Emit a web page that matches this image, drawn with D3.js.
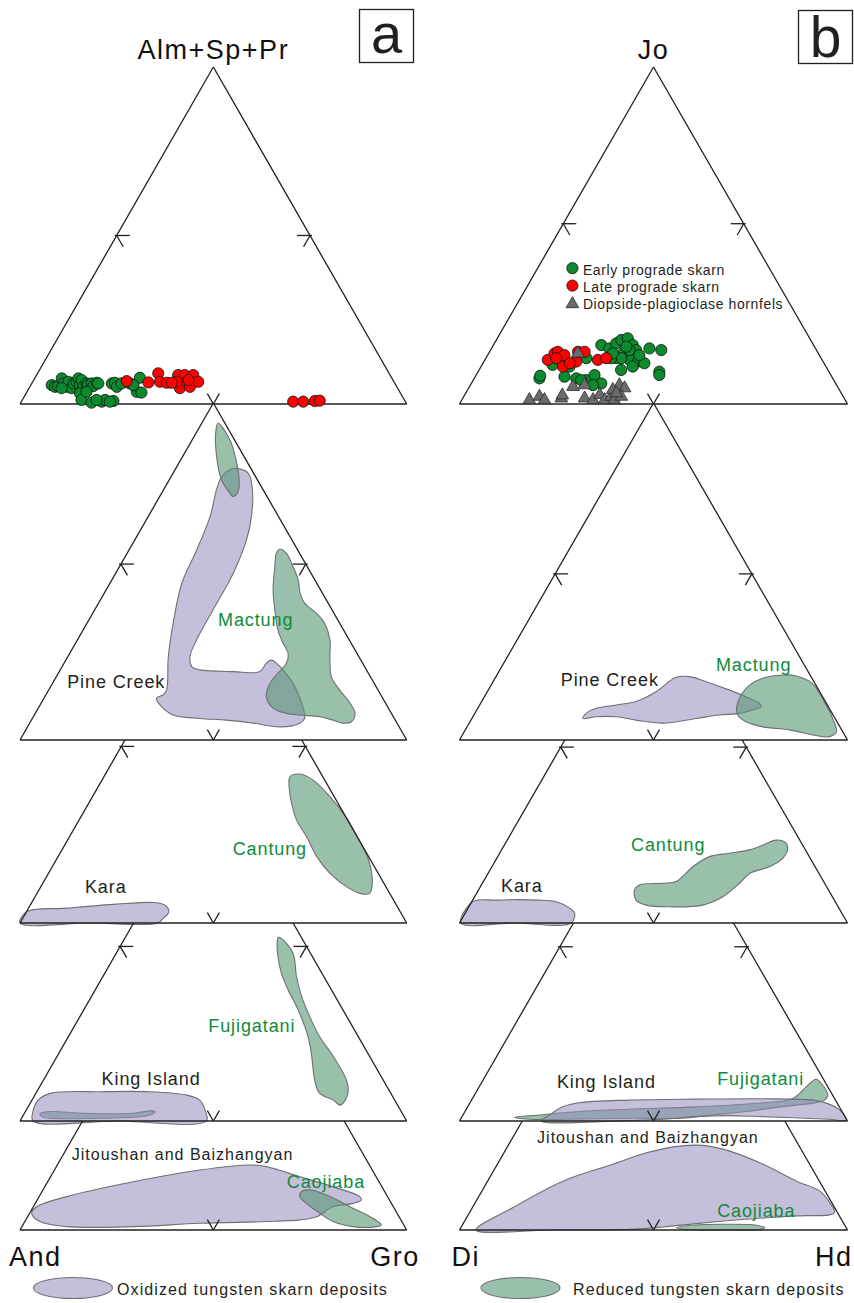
<!DOCTYPE html>
<html><head><meta charset="utf-8">
<script src="https://cdn.jsdelivr.net/npm/d3@7"></script>
<style>body{margin:0;background:#fff}svg{display:block}text{font-family:"Liberation Sans",Arial,sans-serif}</style>
</head><body><svg id="c" width="854" height="1303"></svg>
<script>
// ---------------- DATA (ternary: [right-apex %, top-apex %]; left-apex = remainder) ----------------
const apexLabelsA = ["Alm+Sp+Pr", "And", "Gro"];
const apexLabelsB = ["Jo", "Di", "Hd"];
const panelLetters = ["a", "b"];
const legendPoints = ["Early prograde skarn", "Late prograde skarn", "Diopside-plagioclase hornfels"];
const legendRegions = ["Oxidized tungsten skarn deposits", "Reduced tungsten skarn deposits"];

// Garnet (a): [Gro, Alm+Sp+Pr]
const earlyA = [[5.4,5.6],[6.5,5.1],[7.2,5.3],[7.0,7.6],[8.2,6.1],[9.6,5.1],[9.2,6.6],[11.0,4.7],[10.8,6.1],[11.3,6.6],[11.3,7.6],[12.7,5.6],[12.4,7.1],[13.8,5.1],[14.2,6.1],[14.8,5.6],[15.5,6.1],[16.3,5.3],[16.7,6.3],[17.2,6.1],[13.9,3.2],[15.3,1.2],[18.3,0.4],[20.8,0.7],[21.4,1.2],[23.7,0.9],[20.7,6.1],[21.4,6.3],[22.5,5.1],[23.2,6.1],[25.4,6.1],[27.1,7.8],[28.4,3.6],[29.7,3.4],[26.5,5.6],[8.4,4.7],[15.4,3.6],[22.9,0.7],[19.2,1.2]];
const lateA = [[24.2,6.8],[30.0,6.4],[31.2,9.1],[32.9,6.6],[34.8,6.3],[36.6,8.6],[39.0,4.7],[38.3,8.6],[39.8,6.6],[41.4,5.1],[40.5,8.6],[42.8,6.6],[40.0,7.1],[37.2,6.6],[36.1,6.3],[70.3,0.7],[72.9,0.7],[75.8,0.9],[77.0,1.0]];
// Pyroxene (b): [Hd, Jo]
const earlyB = [[16.8,7.6],[16.6,8.4],[23.0,8.1],[26.3,7.6],[29.1,7.1],[30.5,8.6],[33.5,6.1],[27.8,17.5],[30.4,16.5],[31.4,18.0],[32.2,19.0],[33.6,19.5],[35.9,17.5],[37.5,16.0],[34.6,15.0],[33.6,13.6],[37.3,13.1],[39.7,12.6],[41.6,12.1],[36.6,10.1],[39.1,11.1],[40.7,16.5],[44.0,16.0],[46.7,9.6],[47.2,8.6],[34.9,13.6],[32.3,13.6],[25.9,13.6],[19.5,12.6],[18.2,11.6],[22.8,11.1],[27.8,7.1],[31.6,5.6],[35.8,16.0],[34.5,17.0],[39.1,14.5],[32.0,15.0]];
const lateB = [[16.2,13.1],[17.0,15.0],[17.6,15.5],[19.8,14.5],[23.8,12.6],[21.1,11.1],[22.8,15.5],[24.5,15.5],[29.1,13.1],[31.0,13.6],[22.4,12.1],[18.1,13.6]];
const hornfelsB = [[17.4,1.2],[19.5,2.2],[21.3,1.2],[25.4,1.7],[25.2,2.6],[31.4,1.7],[33.8,1.2],[34.8,2.7],[36.8,1.2],[38.0,2.2],[39.3,1.2],[38.4,5.6],[40.2,4.7],[40.6,2.2],[26.7,5.1],[29.4,5.6],[23.0,15.0],[37.4,4.2],[38.8,3.2]];

// Deposit fields, garnet (a)
const pineCreekA = [[15.7,80.6],[19.5,79.1],[23.0,74.2],[26.7,66.3],[28.9,59.3],[30.4,49.5],[30.6,38.6],[30.8,29.7],[31.6,24.7],[33.5,21.8],[36.1,20.8],[45.0,20.3],[51.9,20.3],[52.3,22.8],[53.2,23.7],[54.9,22.8],[57.6,20.8],[62.2,16.8],[67.4,10.9],[70.4,6.4],[69.9,5.0],[65.3,3.9],[57.8,5.0],[50.5,5.9],[43.3,6.4],[35.9,7.4],[31.0,10.4],[29.1,12.4],[30.3,13.4],[30.5,14.8],[26.0,24.7],[22.3,34.6],[18.6,46.5],[17.5,56.4],[16.0,66.3],[13.7,74.2],[13.1,78.1],[14.2,80.3]];
const mactungUpperA = [[4.2,94.0],[9.8,89.0],[15.0,82.1],[18.6,76.2],[19.6,73.2],[19.0,72.2],[17.7,73.2],[13.5,77.2],[8.8,84.1],[5.1,91.0]];
const mactungLowerA = [[38.9,56.6],[41.2,55.4],[44.9,51.4],[48.2,47.5],[50.7,43.5],[53.3,40.6],[57.9,37.6],[61.5,34.6],[65.3,29.7],[67.8,24.7],[71.1,18.8],[75.3,14.8],[79.9,10.9],[82.7,7.9],[83.0,5.4],[81.0,5.0],[78.0,5.9],[74.1,6.9],[68.7,7.4],[65.0,7.9],[60.8,9.4],[57.3,12.8],[56.2,16.8],[56.8,19.8],[57.5,22.8],[56.5,25.7],[53.7,28.7],[50.4,32.6],[46.6,38.6],[43.2,44.5],[40.2,51.4],[38.6,55.4]];
const karaA = [[0,0],[0,3.3],[9.9,4.4],[22.2,5.6],[31.4,6.1],[34.2,5.6],[36.1,4.4],[36.9,2.9],[36.3,1.4],[35.7,0],[18,0]];
const cantungA = [[48.1,43.4],[50.3,44.2],[54.6,42.4],[61.4,37.5],[68.5,31.5],[74.4,25.6],[80.8,18.7],[85.2,11.8],[86.0,8.8],[83.5,8.8],[79.0,10.8],[72.8,14.7],[66.9,19.7],[61.3,25.6],[56.2,30.6],[51.8,36.5],[49.4,40.4]];
const kingIslandA = [[3.4,0],[1.8,3.3],[1.6,6.2],[3.7,8.2],[16.3,8.7],[29.2,8.7],[39.2,7.7],[43.4,6.2],[46.2,3.3],[48.2,0],[25,0]];
const kingInnerA = [[4.1,2.1],[6.4,2.8],[15.2,2.3],[28.1,2.3],[32.1,3.0],[33.5,2.8],[32.7,1.8],[28.7,1.1],[20.3,0.8],[7.4,0.8],[5.0,1.3]];
const fujigataniA = [[39.5,54.5],[40.5,54.2],[45.7,49.8],[50.1,42.8],[54.4,36.9],[59.5,30.9],[65.0,25.0],[71.5,19.1],[78.3,12.2],[80.5,8.7],[80.9,5.3],[80.4,4.7],[77.9,6.2],[73.4,8.2],[70.1,12.2],[65.9,19.1],[62.0,25.0],[55.5,32.9],[49.9,38.9],[45.7,43.8],[42.3,48.8],[39.9,53.2]];
const jitoushanA = [[0.5,5.0],[0.85,6.9],[7.1,9.9],[22.1,14.3],[37.6,17.8],[49.8,19.3],[54.3,18.8],[64.5,15.8],[74.6,12.8],[82.9,9.9],[83.8,8.9],[82.2,7.9],[77.5,6.9],[74.7,3.9],[70.9,3.0],[62.5,2.5],[45.5,2.0],[28.8,1.0],[11.6,1.0],[3.9,2.5]];
const caojiabaA = [[67.1,11.4],[69.0,11.9],[74.1,10.4],[81.9,6.9],[89.5,3.5],[92.7,1.5],[91.7,1.0],[85.6,1.0],[79.7,2.5],[75.0,5.0],[70.1,7.9],[67.4,9.9]];

// Deposit fields, pyroxene (b)
const pineCreekB = [[28.6,6.4],[28.7,7.9],[30.5,9.4],[35.2,10.4],[39.8,11.4],[43.5,14.3],[46.5,18.6],[49.9,18.8],[54.9,17.3],[62.2,14.8],[68.5,12.4],[71.8,10.9],[72.8,9.9],[71.1,8.9],[68.2,7.9],[63.3,7.4],[57.8,6.4],[49.9,5.0],[42.6,5.9],[37.0,6.9],[31.8,6.9]];
const mactungB = [[65.9,13.4],[66.6,16.3],[69.0,18.3],[73.7,19.3],[77.3,19.0],[82.5,16.8],[87.8,11.9],[93.4,5.9],[95.9,2.5],[94.9,1.0],[90.3,1.5],[83.6,3.0],[76.2,3.9],[71.2,5.4],[68.0,7.4],[66.5,9.9]];
const karaB = [[0.4,0],[0.25,6.3],[6.1,6.8],[17.2,6.8],[21.8,6.3],[26.2,4.4],[28.2,2.9],[28.8,0],[14,0]];
const cantungB = [[40.2,9.8],[40.7,11.3],[46.5,11.8],[49.7,12.3],[51.8,16.7],[54.6,19.7],[59.2,20.7],[63.9,21.7],[66.6,23.1],[69.3,24.6],[71.7,24.1],[73.5,22.2],[73.7,19.2],[71.5,16.7],[67.4,14.7],[66.3,11.8],[64.0,7.8],[60.0,5.3],[51.7,4.8],[45.5,5.3],[42.1,6.8]];
const kingIslandB = [[21.1,0],[22.3,1.8],[24.5,4.2],[28.2,5.4],[40.7,6.2],[57.8,6.5],[74.9,6.6],[88.0,6.2],[91.9,5.3],[96.3,3.3],[99.5,0.3],[95.1,0.5],[77.5,1.3],[68.8,1.6],[60.3,1.3],[52.1,0.5],[43.7,0.1]];
const fujigataniB = [[13.6,1.1],[19.7,1.8],[29.5,2.8],[42.0,3.5],[58.9,4.2],[75.5,5.4],[82.6,6.7],[84.3,10.2],[85.7,12.4],[87.6,11.2],[91.1,7.7],[91.0,6.2],[88.4,5.3],[80.4,4.2],[72.5,2.8],[64.4,1.8],[56.3,0.8],[43.4,0.8],[26.4,0.5],[17.8,0.5]];
const jitoushanB = [[4.3,0],[10.4,6.6],[19.4,14.5],[29.8,19.5],[36.7,22.9],[44.3,24.9],[50.2,25.1],[57.9,23.4],[68.5,19.5],[79.6,14.5],[87.0,11.6],[91.4,8.1],[94.1,5.1],[84.7,4.2],[72.3,3.2],[60.1,1.9],[52.0,0.9],[43.7,0.2],[24,0]];
const caojiabaB = [[55.5,0.7],[60.2,1.5],[68.7,1.7],[75.8,1.4],[78.3,0.7],[77.2,0.1],[69.6,0],[61.0,0]];

// ---------------- LAYOUT ----------------
const svg = d3.select("#c");
svg.append("rect").attr("width", 854).attr("height", 1303).attr("fill", "#fff");

const bases = [404, 740, 923, 1121, 1230];
const TRI_H = 337;
const INK = "#231f20";
const FONT = '"Liberation Sans", Arial, sans-serif';
const OX = {fill: "rgb(150,138,192)", op: 0.55};
const RE = {fill: "rgb(85,150,115)", op: 0.6};
const labelGreen = "#0f8a3a";

const columns = [
  {L: 20, W: 386.7, apex: apexLabelsA, letter: panelLetters[0],
   ticks: [50, 52.2, 52.4, 51.8, null],
   panels: [
     {points: [[earlyA, "early"], [lateA, "late"]]},
     {regions: [[pineCreekA, OX], [mactungUpperA, RE], [mactungLowerA, RE]],
      labels: [["Pine Creek", [4.5, 15.4], 0], ["Mactung", [34.3, 33.8], 1]]},
     {regions: [[karaA, OX], [cantungA, RE]],
      labels: [["Kara", [12.35, 8.9], 0], ["Cantung", [44.9, 20.2], 1]]},
     {regions: [[fujigataniA, RE], [kingInnerA, RE], [kingIslandA, OX]],
      labels: [["King Island", [15.75, 10.7], 0], ["Fujigatani", [35.5, 26.4], 1]]},
     {regions: [[jitoushanA, OX], [caojiabaA, RE]],
      labels: [["Jitoushan and Baizhangyan", [3.0, 20.8], 0, 16], ["Caojiaba", [62.75, 12.5], 1]]}
   ]},
  {L: 459.5, W: 388, apex: apexLabelsB, letter: panelLetters[1],
   ticks: [53.5, 49.3, 52.2, 51.7, null],
   panels: [
     {points: [[earlyB, "early"], [lateB, "late"], [hornfelsB, "hornfels"]], legend: true},
     {regions: [[pineCreekB, OX], [mactungB, RE]],
      labels: [["Pine Creek", [18.1, 16.0], 0], ["Mactung", [55.85, 20.5], 1]]},
     {regions: [[karaB, OX], [cantungB, RE]],
      labels: [["Kara", [6.1, 9.2], 0], ["Cantung", [33.5, 21.4], 1]]},
     {regions: [[fujigataniB, RE], [kingIslandB, OX]],
      labels: [["King Island", [20.2, 9.8], 0], ["Fujigatani", [61.05, 10.7], 1]]},
     {regions: [[jitoushanB, OX], [caojiabaB, RE]],
      labels: [["Jitoushan and Baizhangyan", [7.1, 25.8], 0, 16], ["Caojiaba", [64.45, 3.9], 1]]}
   ]}
];

const areaLine = d3.line().curve(d3.curveCatmullRomClosed.alpha(0.5));
const seg = (g, a, b) => g.append("line").attr("x1", a[0]).attr("y1", a[1]).attr("x2", b[0]).attr("y2", b[1])
  .attr("stroke", INK).attr("stroke-width", 1.3);

function makeProj(col, i) {
  const xs = d3.scaleLinear().domain([0, 100]).range([col.L, col.L + col.W]);
  const ys = d3.scaleLinear().domain([0, 100]).range([bases[i], bases[i] - TRI_H]);
  const p = d => [xs(d[0] + d[1] / 2), ys(d[1])];
  p.xs = xs; p.ys = ys;
  return p;
}

const pointStyle = {
  early: {fill: "#0b8a2e"},
  late: {fill: "#ff0000"},
  hornfels: {fill: "#6b6b6b"}
};

columns.forEach((col, ci) => {
  const gCol = svg.append("g");
  col.panels.forEach((panel, i) => {
    const p = makeProj(col, i);
    const g = gCol.append("g");
    // regions
    (panel.regions || []).forEach(([data, st]) => {
      g.append("path").attr("d", areaLine(data.map(p)))
        .attr("fill", st.fill).attr("fill-opacity", st.op)
        .attr("stroke", "#707070").attr("stroke-width", 1.1);
    });
    // frame
    const tTop = i === 0 ? 100 : p.ys.invert(bases[i - 1]);
    seg(g, p([0, 0]), p([100, 0]));
    seg(g, p([0, 0]), p([0, tTop]));
    seg(g, p([100, 0]), p([100 - tTop, tTop]));
    // ticks
    const len = 13, c60 = 0.5, s60 = Math.sqrt(3) / 2;
    const f = col.ticks[i];
    if (f !== null && f < tTop) {
      const lp = p([0, f]);
      seg(g, [lp[0] - 2, lp[1]], [lp[0] + len, lp[1]]);
      seg(g, lp, [lp[0] + len * c60, lp[1] + len * s60]);
      const rp = p([100 - f, f]);
      seg(g, [rp[0] + 2, rp[1]], [rp[0] - len, rp[1]]);
      seg(g, rp, [rp[0] - len * c60, rp[1] + len * s60]);
    }
    const bp = p([50, 0]);
    seg(g, bp, [bp[0] - 12 * c60, bp[1] - 12 * s60]);
    seg(g, bp, [bp[0] + 12 * c60, bp[1] - 12 * s60]);
    // labels
    (panel.labels || []).forEach(([txt, pos, kind, size]) => {
      const a = p(pos);
      g.append("text").attr("x", a[0]).attr("y", a[1]).text(txt)
        .attr("font-size", size || 18).attr("letter-spacing", size ? 1 : 0.9)
        .attr("fill", kind ? labelGreen : INK);
    });
    // points
    (panel.points || []).forEach(([data, kind]) => {
      if (kind === "hornfels") {
        g.selectAll(null).data(data).enter().append("path")
          .attr("d", d3.symbol(d3.symbolTriangle, 70)())
          .attr("transform", d => { const q = p(d); return `translate(${q[0]},${q[1]})`; })
          .attr("fill", pointStyle[kind].fill).attr("stroke", "#2a2a2a").attr("stroke-width", 0.8);
      } else {
        g.selectAll(null).data(data).enter().append("circle")
          .attr("cx", d => p(d)[0]).attr("cy", d => p(d)[1]).attr("r", 5.6)
          .attr("fill", pointStyle[kind].fill).attr("stroke", "#111").attr("stroke-width", 0.8);
      }
    });
    if (panel.legend) {
      const lx = p.xs(29.1), ly0 = p.ys(40.3), dy = 17.4;
      const kinds = ["early", "late", "hornfels"];
      legendPoints.forEach((t, k) => {
        const y = ly0 + k * dy;
        if (kinds[k] === "hornfels") {
          g.append("path").attr("d", d3.symbol(d3.symbolTriangle, 70)())
            .attr("transform", `translate(${lx},${y + 1})`)
            .attr("fill", pointStyle.hornfels.fill).attr("stroke", "#2a2a2a").attr("stroke-width", 0.8);
        } else {
          g.append("circle").attr("cx", lx).attr("cy", y).attr("r", 5.6)
            .attr("fill", pointStyle[kinds[k]].fill).attr("stroke", "#111").attr("stroke-width", 0.8);
        }
        g.append("text").attr("x", lx + 10.5).attr("y", y + 6.5).text(t)
          .attr("font-size", 14).attr("letter-spacing", 0.6).attr("fill", INK);
      });
    }
  });

  // apex labels
  const p0 = makeProj(col, 0);
  const top = p0([0, 100]);
  svg.append("text").attr("x", top[0]).attr("y", top[1] - 8).attr("text-anchor", "middle")
    .attr("font-size", 27).attr("letter-spacing", 1.5).attr("fill", "#111").text(col.apex[0]);
  const pl = makeProj(col, 4);
  const lc = pl([0, 0]), rc = pl([100, 0]);
  svg.append("text").attr("x", lc[0] - (ci ? 8 : 11)).attr("y", 1266).attr("text-anchor", "start")
    .attr("font-size", 27).attr("letter-spacing", 1.5).attr("fill", "#111").text(col.apex[1]);
  svg.append("text").attr("x", rc[0] + (ci ? 5 : 13)).attr("y", 1266).attr("text-anchor", "end")
    .attr("font-size", 27).attr("letter-spacing", 1.5).attr("fill", "#111").text(col.apex[2]);

  // panel letter box
  const bx = ci ? 798.5 : 359.5, by = ci ? 10.5 : 9.5;
  svg.append("rect").attr("x", bx).attr("y", by).attr("width", 54).attr("height", 53)
    .attr("fill", "none").attr("stroke", INK).attr("stroke-width", 1.3);
  svg.append("text").attr("x", bx + 27).attr("y", by + (ci ? 46.5 : 43)).attr("text-anchor", "middle")
    .attr("font-size", ci ? 57 : 56).attr("fill", INK).text(col.letter);
});

// bottom legend
const legendItems = [[legendRegions[0], OX, 73, 117], [legendRegions[1], RE, 520.5, 573]];
legendItems.forEach(([t, st, cx, tx]) => {
  svg.append("ellipse").attr("cx", cx).attr("cy", 1288).attr("rx", 39.5).attr("ry", 10.5)
    .attr("fill", st.fill).attr("fill-opacity", st.op).attr("stroke", "#707070").attr("stroke-width", 1.1);
  svg.append("text").attr("x", tx).attr("y", 1295).text(t)
    .attr("font-size", 16).attr("letter-spacing", 1.1).attr("fill", INK);
});
</script>
</body></html>
